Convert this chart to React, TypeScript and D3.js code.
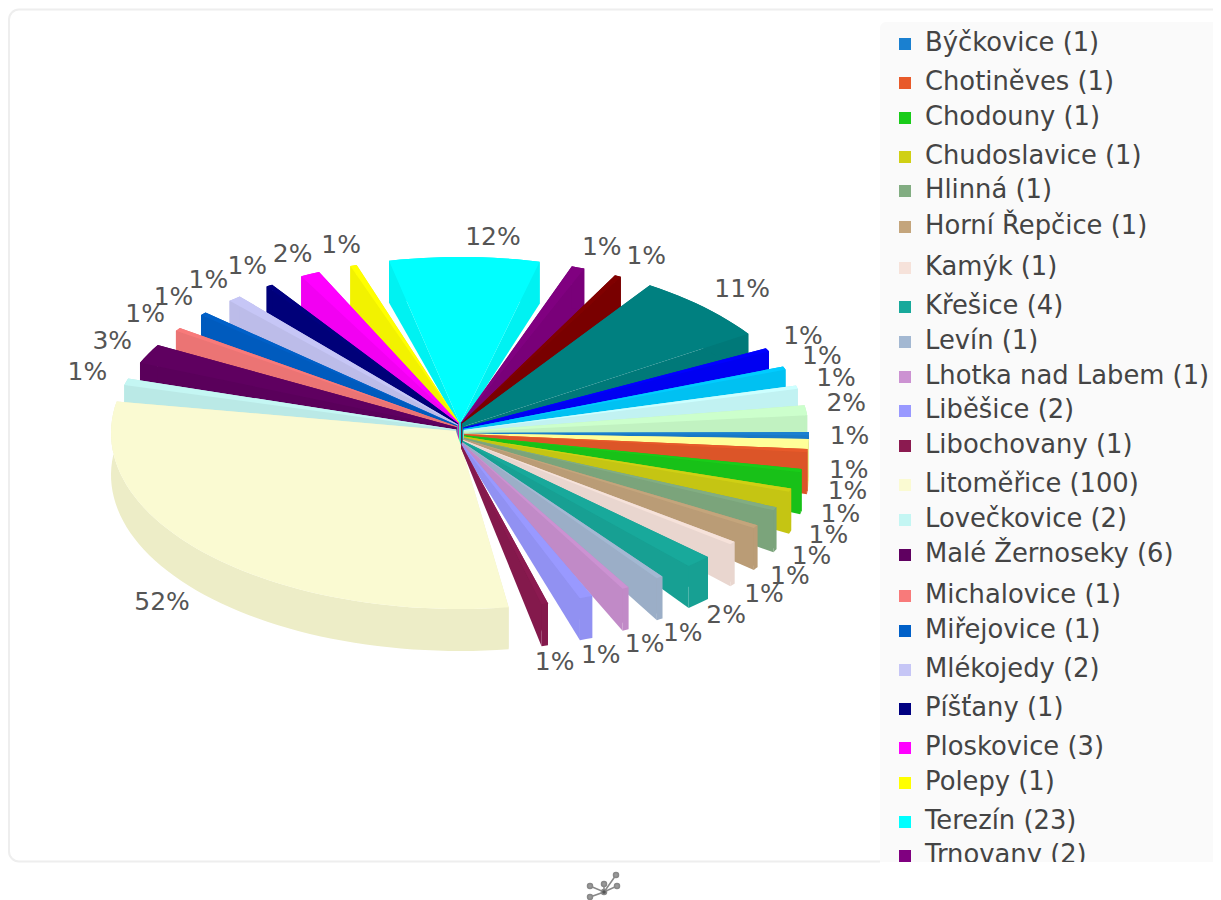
import React from 'react';
import { color, cumsum, line, range, rgb, scaleLinear, sum } from 'd3';

// legend rows, in the order the chart lists them
const legendNames = ['Býčkovice', 'Chotiněves', 'Chodouny', 'Chudoslavice', 'Hlinná', 'Horní Řepčice', 'Kamýk', 'Křešice', 'Levín', 'Lhotka nad Labem', 'Liběšice', 'Libochovany', 'Litoměřice', 'Lovečkovice', 'Malé Žernoseky', 'Michalovice', 'Miřejovice', 'Mlékojedy', 'Píšťany', 'Ploskovice', 'Polepy', 'Terezín', 'Trnovany'];
const legendCounts = [1, 1, 1, 1, 1, 1, 1, 4, 1, 1, 2, 1, 100, 2, 6, 1, 1, 2, 1, 3, 1, 23, 2];
const legendColors = ['#1a80d0', '#e85a2a', '#19cc19', '#d0d014', '#82ad82', '#c4a57c', '#f6e2da', '#18a99b', '#a3b8d2', '#cc92d2', '#9999ff', '#8b1a50', '#fafad2', '#c4f6f3', '#5f0060', '#f87a7a', '#0060c8', '#c6c6f6', '#000080', '#ff00ff', '#ffff00', '#00ffff', '#800080'];

// slices whose legend rows are cut off by the panel
const offLegendCounts = [1, 21, 1, 1, 1, 3];
const offLegendColors = ['#800000', '#008080', '#0000ff', '#00ccff', '#ccffff', '#ccffcc'];
const wedgedCount = 3;
const wedgedColor = '#ffff99';

const sliceCounts = [legendCounts[0], wedgedCount, ...legendCounts.slice(1), ...offLegendCounts];
const sliceColors = [legendColors[0], wedgedColor, ...legendColors.slice(1), ...offLegendColors];
const percentLabels = ['1%', '1%', '1%', '1%', '1%', '1%', '1%', '1%', '2%', '1%', '1%', '1%', '1%', '52%', '1%', '3%', '1%', '1%', '1%', '1%', '2%', '1%', '12%', '1%', '1%', '11%', '1%', '1%', '1%', '2%'];

// legend text baselines are a little uneven in the original
const legendRowY = [42, 81, 116, 155, 189, 225, 266, 305, 340, 375, 409, 444, 483, 518, 553, 594, 629, 668, 707, 746, 781, 820, 854];

const WIDTH = 1221;
const HEIGHT = 900;
const cx = 460;
const cy = 433;
const rx = 349;
const ry = 176;
const depth = 42;
const hubDepth = 4;
const pillarDepth = 24;
const hubX = 0.012;
const hubY = 0.065;
const labelRadius = 1.116;
const rad = Math.PI / 180;
const gap = 5.5 * rad;
const firstAngle = -0.3 * rad;

const sx = scaleLinear().domain([-1, 1]).range([cx - rx, cx + rx]);
const sy = scaleLinear().domain([-1, 1]).range([cy - ry, cy + ry]);

// the pale slice hugs its neighbours, every other slice keeps the gap
const gapBefore = (i: number) => (i === 2 ? 0 : i === 1 ? 1.2 * rad : gap);
const totalGap = sum(sliceCounts, (_, i) => gapBefore(i));
const total = sum(sliceCounts);
const sweep = scaleLinear().domain([0, total]).range([0, 2 * Math.PI - totalGap]);
const ends = Array.from(cumsum(sliceCounts));

const slices = sliceCounts.map((count, i) => {
  const gaps = i === 0 ? 0 : sum(range(1, i + 1), j => gapBefore(j));
  const start = firstAngle + gaps + sweep(ends[i] - count);
  const end = firstAngle + gaps + sweep(ends[i]);
  return { i, start, end, mid: (start + end) / 2, color: sliceColors[i], label: percentLabels[i] };
});

const outer = (t: number, z = 0): [number, number] => [sx(Math.cos(t)), sy(Math.sin(t)) + z];
const hub = (t: number, z = 0): [number, number] => [sx(hubX * Math.cos(t)), sy(hubY * Math.sin(t)) + z];
const poly = line();
const face = (pts: [number, number][]) => poly(pts) + 'Z';

const arcPoints = (a: number, b: number, z = 0) => {
  const steps = Math.max(2, Math.ceil((b - a) / (2 * rad)));
  return range(steps + 1).map(k => outer(a + ((b - a) * k) / steps, z));
};

const Wedge = ({ s }: { s: typeof slices[number] }) => {
  const side = rgb(color(s.color) as any).darker(0.15).formatHex();
  const top = arcPoints(s.start, s.end);
  const wall = arcPoints(s.start, s.end, depth).reverse();
  return (
    <g>
      {Math.sin(s.mid) < 0 && (
        <path d={face([hub(s.start), hub(s.end), hub(s.end, pillarDepth), hub(s.start, pillarDepth)])} fill={side} stroke={side} strokeWidth={0.6} />
      )}
      <path d={face([hub(s.start), outer(s.start), outer(s.start, depth), hub(s.start, hubDepth)])} fill={side} />
      <path d={face([hub(s.end), outer(s.end), outer(s.end, depth), hub(s.end, hubDepth)])} fill={side} />
      <path d={face([...top, ...wall])} fill={side} />
      <path d={face([hub(s.start), ...top, hub(s.end)])} fill={s.color} />
    </g>
  );
};

const labelPos = (s: typeof slices[number]) => {
  const sin = Math.sin(s.mid);
  const cos = Math.cos(s.mid);
  const x = sx(labelRadius * cos);
  const y = sy(labelRadius * sin);
  if (sin > 0) {
    // the biggest slice keeps its label further round the ring
    if (s.label === '52%') return [x - 17, y + 32];
    return [x, y + 38 * Math.min(1, sin / 0.1)];
  }
  // upper half sits slightly above the ring, and the right part leans outward
  const lean = cos > -0.05 && sin < -0.5 ? (s.label === '12%' ? 28 : 10) : 0;
  return [x + lean, y - 5 * Math.abs(cos)];
};

export default function App() {
  const ordered = [...slices].sort((a, b) => Math.sin(a.mid) - Math.sin(b.mid));
  return (
    <svg width={WIDTH} height={HEIGHT} style={{ position: 'absolute', left: 0, top: 0, background: '#fff' }} fontFamily="'DejaVu Sans', sans-serif">
      <defs>
        <clipPath id="legend-clip"><rect x={880} y={22} width={333} height={840} /></clipPath>
      </defs>
      <path d={`M1213 9.5H19a10 10 0 0 0 -10 10V851.5a10 10 0 0 0 10 10H880`} fill="none" stroke="#eeeeee" strokeWidth={2} />

      {ordered.map(s => <Wedge key={s.i} s={s} />)}

      {slices.map(s => {
        const [x, y] = labelPos(s);
        return <text key={s.i} x={x} y={y} textAnchor="middle" dominantBaseline="central" fontSize={25} fill="#555">{s.label}</text>;
      })}

      <g clipPath="url(#legend-clip)">
        <rect x={880} y={22} width={340} height={860} rx={6} fill="#fafafa" />
        {legendNames.map((name, i) => (
          <g key={name}>
            <rect x={899} y={legendRowY[i] - 4} width={12} height={12} fill={legendColors[i]} />
            <text x={925} y={legendRowY[i]} dominantBaseline="central" fontSize={25.8} fill="#444">{`${name} (${legendCounts[i]})`}</text>
          </g>
        ))}
      </g>

      <g stroke="#888" strokeWidth={1.5} fill="#999">
        <path d="M590 897L604 892L616 875M590 886L604 892L617 886M604 884L604 892" fill="none" />
        <circle cx={590} cy={886} r={2.5} />
        <circle cx={590} cy={897} r={2.5} />
        <circle cx={604} cy={884} r={2.5} />
        <circle cx={604} cy={892} r={2.5} fill="#555" />
        <circle cx={616} cy={875} r={2.5} />
        <circle cx={617} cy={886} r={2.5} />
      </g>
    </svg>
  );
}
